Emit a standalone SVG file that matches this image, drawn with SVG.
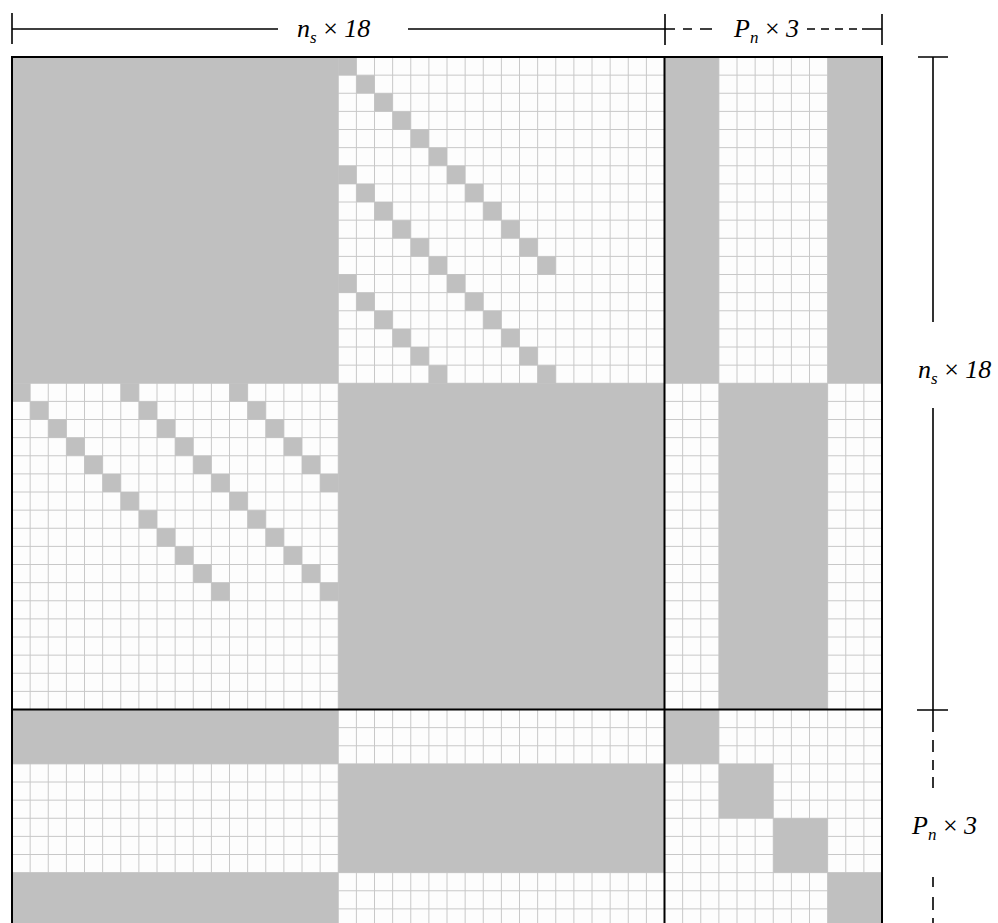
<svg xmlns="http://www.w3.org/2000/svg" width="998" height="923" viewBox="0 0 998 923">
<style>
.grid{fill:none;stroke:#c8c8c8;stroke-width:1;vector-effect:non-scaling-stroke}
.g{fill:#c0c0c0;stroke:none}
.bd{fill:none;stroke:#000;stroke-width:2;vector-effect:non-scaling-stroke}
.dim{fill:none;stroke:#000;stroke-width:1.6}
.lbl{font-family:"Liberation Serif","Times New Roman",serif;font-style:italic;font-size:26px;fill:#000}
.sub{font-size:17px}
.x{font-style:normal}
</style>
<rect x="0" y="0" width="998" height="923" fill="#ffffff"/>
<g id="matrix" transform="translate(12,57) scale(18.125)">
  <rect x="0" y="0" width="48" height="48" fill="#fdfdfd"/>
  <path class="grid" d="M0 0V48M1 0V48M2 0V48M3 0V48M4 0V48M5 0V48M6 0V48M7 0V48M8 0V48M9 0V48M10 0V48M11 0V48M12 0V48M13 0V48M14 0V48M15 0V48M16 0V48M17 0V48M18 0V48M19 0V48M20 0V48M21 0V48M22 0V48M23 0V48M24 0V48M25 0V48M26 0V48M27 0V48M28 0V48M29 0V48M30 0V48M31 0V48M32 0V48M33 0V48M34 0V48M35 0V48M36 0V48M37 0V48M38 0V48M39 0V48M40 0V48M41 0V48M42 0V48M43 0V48M44 0V48M45 0V48M46 0V48M47 0V48M48 0V48M0 0H48M0 1H48M0 2H48M0 3H48M0 4H48M0 5H48M0 6H48M0 7H48M0 8H48M0 9H48M0 10H48M0 11H48M0 12H48M0 13H48M0 14H48M0 15H48M0 16H48M0 17H48M0 18H48M0 19H48M0 20H48M0 21H48M0 22H48M0 23H48M0 24H48M0 25H48M0 26H48M0 27H48M0 28H48M0 29H48M0 30H48M0 31H48M0 32H48M0 33H48M0 34H48M0 35H48M0 36H48M0 37H48M0 38H48M0 39H48M0 40H48M0 41H48M0 42H48M0 43H48M0 44H48M0 45H48M0 46H48M0 47H48M0 48H48"/>
  <g id="blocks">
    <rect class="g" x="0" y="0" width="18" height="18"/>
    <rect class="g" x="18" y="18" width="18" height="18"/>
    <rect class="g" x="36" y="0" width="3" height="18"/>
    <rect class="g" x="45" y="0" width="3" height="18"/>
    <rect class="g" x="39" y="18" width="6" height="18"/>
    <rect class="g" x="0" y="36" width="18" height="3"/>
    <rect class="g" x="0" y="45" width="18" height="3"/>
    <rect class="g" x="18" y="39" width="18" height="6"/>
    <rect class="g" x="36" y="36" width="3" height="3"/>
    <rect class="g" x="39" y="39" width="3" height="3"/>
    <rect class="g" x="42" y="42" width="3" height="3"/>
    <rect class="g" x="45" y="45" width="3" height="3"/>
  </g>
  <path id="diag-upper" class="g" d="M18 0h1v1h-1zM19 1h1v1h-1zM20 2h1v1h-1zM21 3h1v1h-1zM22 4h1v1h-1zM23 5h1v1h-1zM24 6h1v1h-1zM25 7h1v1h-1zM26 8h1v1h-1zM27 9h1v1h-1zM28 10h1v1h-1zM29 11h1v1h-1zM18 6h1v1h-1zM19 7h1v1h-1zM20 8h1v1h-1zM21 9h1v1h-1zM22 10h1v1h-1zM23 11h1v1h-1zM24 12h1v1h-1zM25 13h1v1h-1zM26 14h1v1h-1zM27 15h1v1h-1zM28 16h1v1h-1zM29 17h1v1h-1zM18 12h1v1h-1zM19 13h1v1h-1zM20 14h1v1h-1zM21 15h1v1h-1zM22 16h1v1h-1zM23 17h1v1h-1z"/>
  <path id="diag-lower" class="g" d="M0 18h1v1h-1zM1 19h1v1h-1zM2 20h1v1h-1zM3 21h1v1h-1zM4 22h1v1h-1zM5 23h1v1h-1zM6 24h1v1h-1zM7 25h1v1h-1zM8 26h1v1h-1zM9 27h1v1h-1zM10 28h1v1h-1zM11 29h1v1h-1zM6 18h1v1h-1zM7 19h1v1h-1zM8 20h1v1h-1zM9 21h1v1h-1zM10 22h1v1h-1zM11 23h1v1h-1zM12 24h1v1h-1zM13 25h1v1h-1zM14 26h1v1h-1zM15 27h1v1h-1zM16 28h1v1h-1zM17 29h1v1h-1zM12 18h1v1h-1zM13 19h1v1h-1zM14 20h1v1h-1zM15 21h1v1h-1zM16 22h1v1h-1zM17 23h1v1h-1z"/>
  <path id="borders" class="bd" d="M0 48V0H48V48M36 0V48M0 36H48"/>
</g>
<g id="dim-top">
  <path class="dim" d="M12 13V44M12 29H278M408 29H665M665 14V45M882 14V45M665 29H675M683 29H692M700 29H712M807 29H815M821 29H829M835 29H843M849 29H857M862 29H882"/>
  <text class="lbl" x="297" y="37">n<tspan class="sub" dy="6">s</tspan><tspan dy="-6" class="x"> × </tspan>18</text>
  <text class="lbl" x="734" y="37">P<tspan class="sub" dy="6">n</tspan><tspan dy="-6" class="x"> × </tspan>3</text>
</g>
<g id="dim-right">
  <path class="dim" d="M918 57H948M933 57V322M933 408V710M917 710H948M933 710V732M933 740V752M933 760V770M933 777V788M933 877V887M933 897V910M933 918V923"/>
  <text class="lbl" x="918" y="378">n<tspan class="sub" dy="6">s</tspan><tspan dy="-6" class="x"> × </tspan>18</text>
  <text class="lbl" x="912" y="834">P<tspan class="sub" dy="6">n</tspan><tspan dy="-6" class="x"> × </tspan>3</text>
</g>
</svg>
